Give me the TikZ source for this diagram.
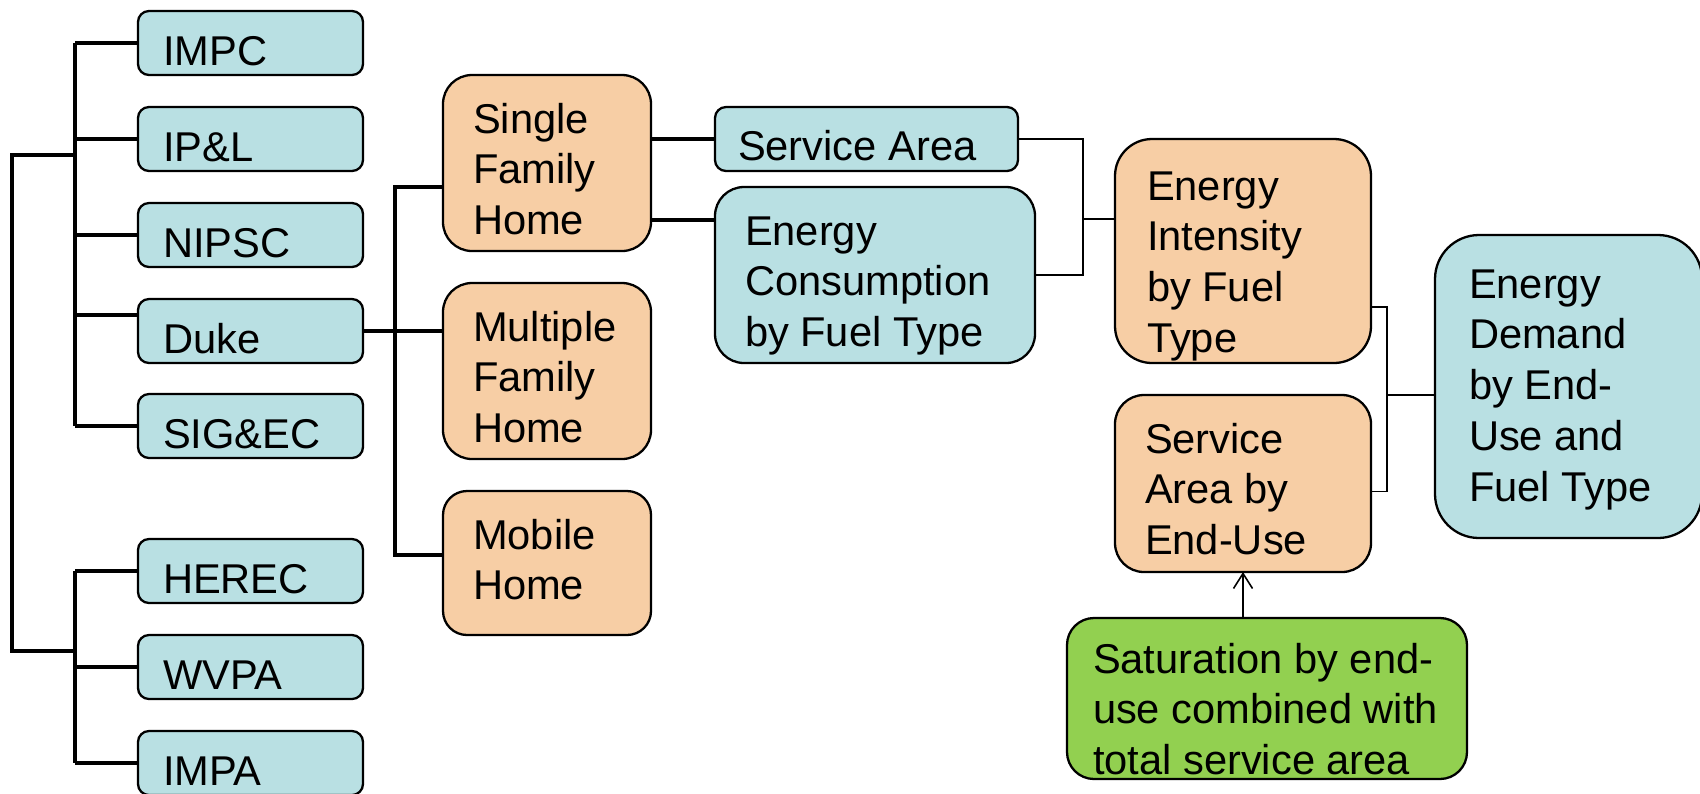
\documentclass[tikz,border=0pt]{standalone}
\usepackage{fontspec}
\setmainfont{Liberation Sans}
\usetikzlibrary{positioning, arrows.meta}
\definecolor{cyanbox}{RGB}{185,224,227}
\definecolor{orangebox}{RGB}{247,206,165}
\definecolor{greenbox}{RGB}{146,208,80}
\newcommand{\boxfont}{\fontsize{11.85}{14.5}\selectfont\hyphenpenalty=10000\exhyphenpenalty=10000}
\tikzstyle{block} = [rectangle, draw=black, line width=0.65pt, outer sep=0pt, inner ysep=0pt, align=flush left, font=\boxfont]
\tikzstyle{utility} = [block, fill=cyanbox, rounded corners=0.11cm, text width=1.75cm, inner xsep=0.25cm, text height=0.54cm, text depth=0.10cm]
\tikzstyle{home} = [block, fill=orangebox, rounded corners=0.29cm, text width=1.48cm, inner xsep=0.30cm, text height=0.58cm, text depth=1.18cm]
\tikzstyle{area} = [block, fill=cyanbox, rounded corners=0.11cm, text width=2.57cm, inner xsep=0.23cm, text height=0.53cm, text depth=0.11cm]
\tikzstyle{consumption} = [block, fill=cyanbox, rounded corners=0.29cm, text width=2.60cm, inner xsep=0.30cm, text height=0.58cm, text depth=1.18cm]
\tikzstyle{intensity} = [block, fill=orangebox, rounded corners=0.37cm, text width=1.92cm, inner xsep=0.32cm, text height=0.61cm, text depth=1.63cm]
\tikzstyle{enduse} = [block, fill=orangebox, rounded corners=0.29cm, text width=1.96cm, inner xsep=0.30cm, text height=0.58cm, text depth=1.19cm]
\tikzstyle{demand} = [block, fill=cyanbox, rounded corners=0.44cm, text width=1.99cm, inner xsep=0.34cm, text height=0.63cm, text depth=2.40cm]
\tikzstyle{saturation} = [block, fill=greenbox, rounded corners=0.27cm, text width=3.48cm, inner xsep=0.26cm, text height=0.55cm, text depth=1.06cm]
\tikzstyle{tree} = [line width=0.9pt]
\tikzstyle{bracket} = [line width=0.45pt]
\tikzstyle{link} = [line width=0.65pt]
\tikzstyle{arrow} = [line width=0.45pt, -{Straight Barb[length=0.15cm, width=0.19cm]}]

\begin{document}
\begin{tikzpicture}
\useasboundingbox (0,0) rectangle (17,-7.93);

%% utilities
\node (impc) [utility, anchor=north west] at (1.38,-0.11) {IMPC};
\node (ipl) [utility, below=0.32cm of impc] {IP\&L};
\node (nipsc) [utility, below=0.32cm of ipl] {NIPSC};
\node (duke) [utility, below=0.32cm of nipsc] {Duke};
\node (sigec) [utility, below=0.31cm of duke] {SIG\&EC};
\node (herec) [utility, below=0.81cm of sigec] {HEREC};
\node (wvpa) [utility, below=0.32cm of herec] {WVPA};
\node (impa) [utility, below=0.32cm of wvpa] {IMPA};

%% home types
\node (single) [home, anchor=north west] at (4.43,-0.75) {Single\\Family\\Home};
\node (multi) [home, below=0.32cm of single] {Multiple\\Family\\Home};
\node (mobile) [home, below=0.32cm of multi, text depth=0.86cm, rounded corners=0.24cm] {Mobile\\Home};

%% inputs
\node (sa) [area, anchor=north west] at (7.15,-1.07) {Service Area};
\node (ec) [consumption, below=0.16cm of sa.south west, anchor=north west] {Energy\\Consumption\\by Fuel Type};

%% results
\node (ei) [intensity, anchor=north west] at (11.15,-1.39) {Energy\\Intensity\\by Fuel\\Type};
\node (saeu) [enduse, below=0.32cm of ei] {Service\\Area by\\End-Use};
\node (ed) [demand, anchor=north west] at (14.35,-2.35) {Energy\\Demand\\by End-\\Use and\\Fuel Type};
\node (sat) [saturation, anchor=north west] at (10.67,-6.18) {Saturation by end-\\use combined with\\total service area};

%% left tree
\coordinate (busA) at (0.75,-1.55);
\coordinate (busB) at (0.75,-6.51);
\foreach \u in {impc, ipl, nipsc, sigec}
    \draw [tree] (\u.west) -- (\u.west -| busA);
\draw [tree] ([yshift=0.16cm]duke.west) -- ([yshift=0.16cm]duke.west -| busA);
\draw [tree] (impc.west -| busA) -- (sigec.west -| busA);
\foreach \u in {herec, wvpa, impa}
    \draw [tree] (\u.west) -- (\u.west -| busB);
\draw [tree] (herec.west -| busB) -- (impa.west -| busB);
\draw [tree] (busA) -- ++(-0.63,0) |- (busB);

%% homes
\coordinate (busC) at (3.95,-3.31);
\draw [tree] (duke.east) -- (duke.east -| multi.west);
\draw [tree] ([yshift=-0.24cm]single.west) -| (busC) |- ([yshift=0.08cm]mobile.west);
\draw [tree] (sa.west -| single.east) -- (sa.west);
\draw [tree] ([yshift=0.55cm]ec.west -| single.east) -- ([yshift=0.55cm]ec.west);

%% brackets
\coordinate (busD) at (10.83,-2.19);
\draw [bracket] (sa.east) -| (busD) |- (ec.east);
\draw [link] (busD) -- (busD -| ei.west);
\coordinate (busE) at (13.87,-3.95);
\draw [bracket] ([yshift=-0.56cm]ei.east) -| (busE) |- ([yshift=-0.08cm]saeu.east);
\draw [link] (busE) -- (busE -| ed.west);

\draw [arrow] (saeu.south |- sat.north) -- (saeu.south);

\end{tikzpicture}
\end{document}
